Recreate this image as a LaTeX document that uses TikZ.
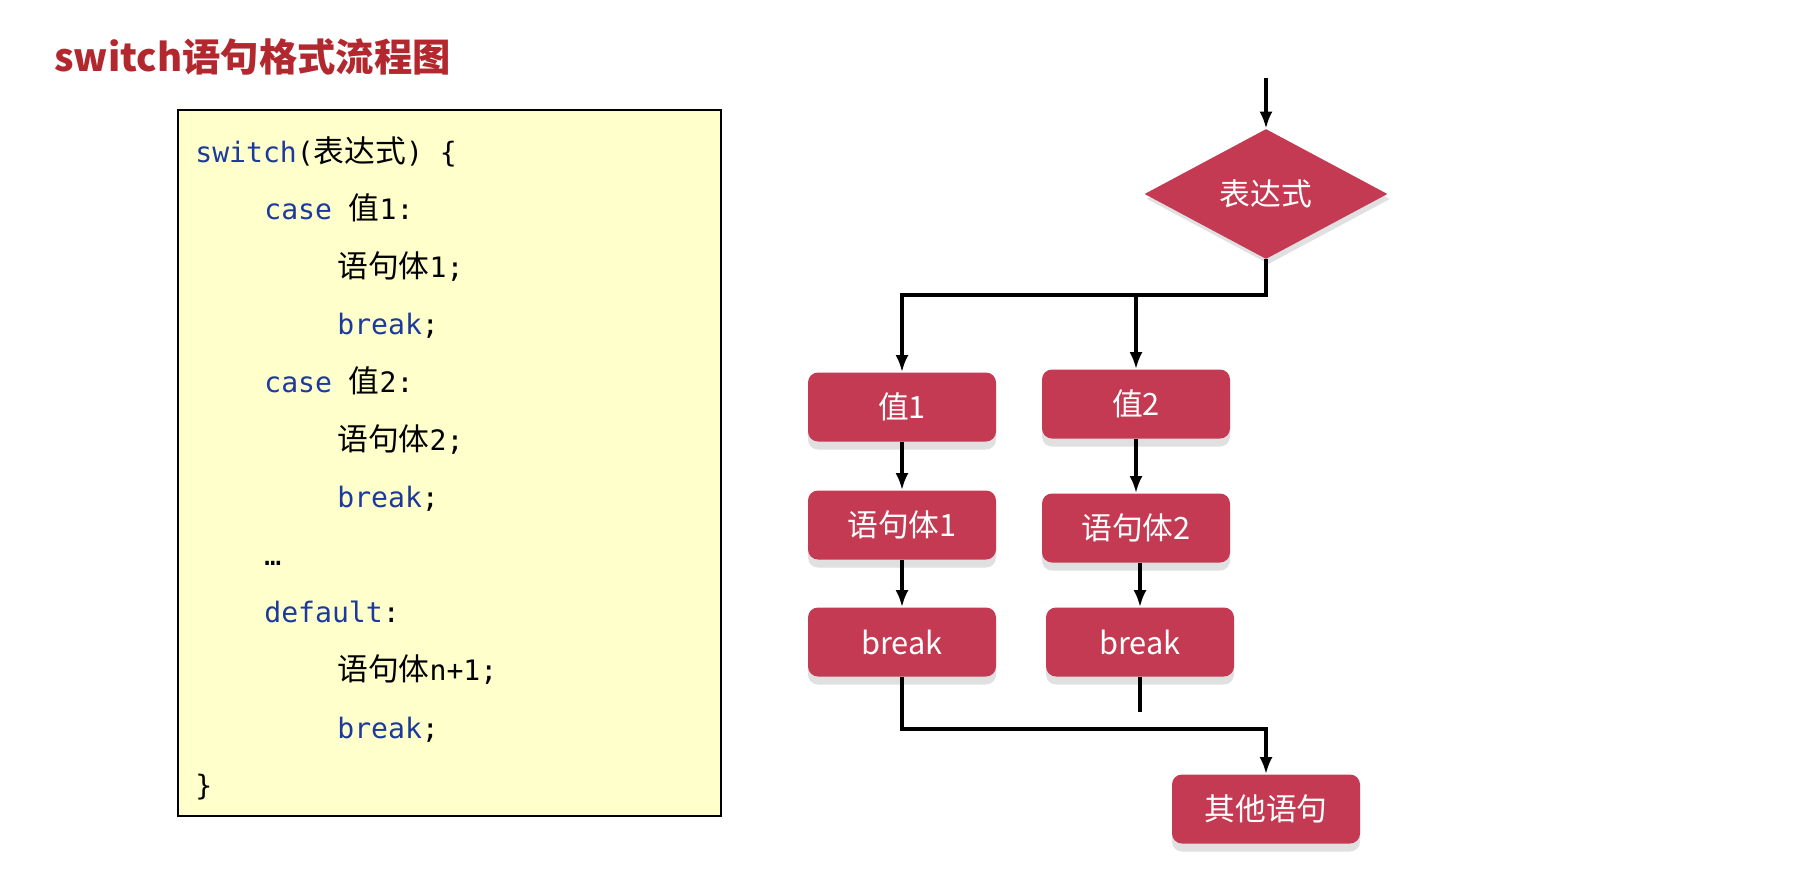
\documentclass[tikz,border=0pt]{standalone}
\usepackage{fontspec}
\setmainfont{Noto Sans CJK SC}
\setmonofont{DejaVu Sans Mono}
\usetikzlibrary{shapes.geometric,arrows.meta,shadows}

\definecolor{boxred}{RGB}{197,58,83}
\definecolor{titlered}{RGB}{178,40,46}
\definecolor{kwblue}{RGB}{28,58,158}
\definecolor{codebg}{RGB}{255,255,204}

\newcommand{\kw}[1]{\textcolor{kwblue}{#1}}
\newcommand{\zh}[1]{{\rmfamily\fontsize{17.5pt}{20pt}\selectfont #1}}

\tikzset{
	flowbox/.style={rectangle, rounded corners=0.2cm, fill=boxred, text=white,
		minimum width=3.76cm, minimum height=1.38cm,
		font=\fontsize{17.5pt}{20pt}\selectfont,
		drop shadow={shadow xshift=0cm, shadow yshift=-0.16cm, fill=black!12, opacity=1}},
	decide/.style={diamond, fill=boxred, text=white, inner sep=0pt,
		minimum width=4.86cm, minimum height=2.6cm,
		font=\fontsize{17.5pt}{20pt}\selectfont,
		drop shadow={shadow xshift=0.05cm, shadow yshift=-0.1cm, fill=black!20, opacity=.6}},
	codeline/.style={anchor=base west, inner sep=0pt, font=\ttfamily\fontsize{16pt}{19pt}\selectfont},
	flow/.style={line width=2pt, -{Latex[length=0.34cm,width=0.26cm]}},
	wire/.style={line width=2pt}
}

\begin{document}
\begin{tikzpicture}
	\path[use as bounding box, fill=white] (0,0) rectangle (35.94,-17.72);
	% title
	\node[anchor=west, inner sep=0pt, text=titlered, font=\bfseries\fontsize{21.8pt}{25pt}\selectfont] (title) at (1.08,-1.14) {switch语句格式流程图};
	%
	% code on the left
	\node[draw, line width=1.1pt, fill=codebg, minimum width=10.86cm, minimum height=14.12cm] (codebox) at (8.99,-9.26) {};
	\node[codeline] (c1) at (3.90,-3.24) {\kw{switch}(\zh{表达式}) \{};
	\node[codeline] (c2) at (5.28,-4.39) {\kw{case} \zh{值}1:};
	\node[codeline] (c3) at (6.74,-5.54) {\zh{语句体}1;};
	\node[codeline] (c4) at (6.74,-6.69) {\kw{break};};
	\node[codeline] (c5) at (5.28,-7.84) {\kw{case} \zh{值}2:};
	\node[codeline] (c6) at (6.74,-9.00) {\zh{语句体}2;};
	\node[codeline] (c7) at (6.74,-10.15) {\kw{break};};
	\node[codeline] (c8) at (5.28,-11.30) {…};
	\node[codeline] (c9) at (5.28,-12.45) {\kw{default}:};
	\node[codeline] (c10) at (6.74,-13.60) {\zh{语句体}n+1;};
	\node[codeline] (c11) at (6.74,-14.76) {\kw{break};};
	\node[codeline] (c12) at (3.90,-15.91) {\}};
	%
	% flow chart on the right
	\coordinate (start) at (25.32,-1.56);
	\node[decide] (expr) at (25.32,-3.88) {表达式};
	\node[flowbox] (v1) at (18.04,-8.14) {值1};
	\node[flowbox] (v2) at (22.72,-8.08) {值2};
	\node[flowbox] (s1) at (18.04,-10.50) {语句体1};
	\node[flowbox] (s2) at (22.72,-10.56) {语句体2};
	\node[flowbox] (b1) at (18.04,-12.84) {break};
	\node[flowbox] (b2) at (22.80,-12.84) {break};
	\node[flowbox] (other) at (25.32,-16.18) {其他语句};
	\coordinate (split) at (18.04,-5.90);
	\coordinate (merge) at (18.04,-14.58);
	\coordinate (b2end) at (22.80,-14.24);
	%
	\draw[flow] (start) -- (expr);
	\draw[flow] (expr.south) |- (split) -- (v1);
	\draw[flow] (v2.north |- split) -- (v2);
	\draw[flow] (v1) -- (s1);
	\draw[flow] (v2) -- (s2);
	\draw[flow] (s1) -- (b1);
	\draw[flow] (b2.north |- s2.south) -- (b2);
	\draw[wire] (b2) -- (b2end);
	\draw[flow] (b1) |- (other.north |- merge) -- (other);
\end{tikzpicture}
\end{document}
